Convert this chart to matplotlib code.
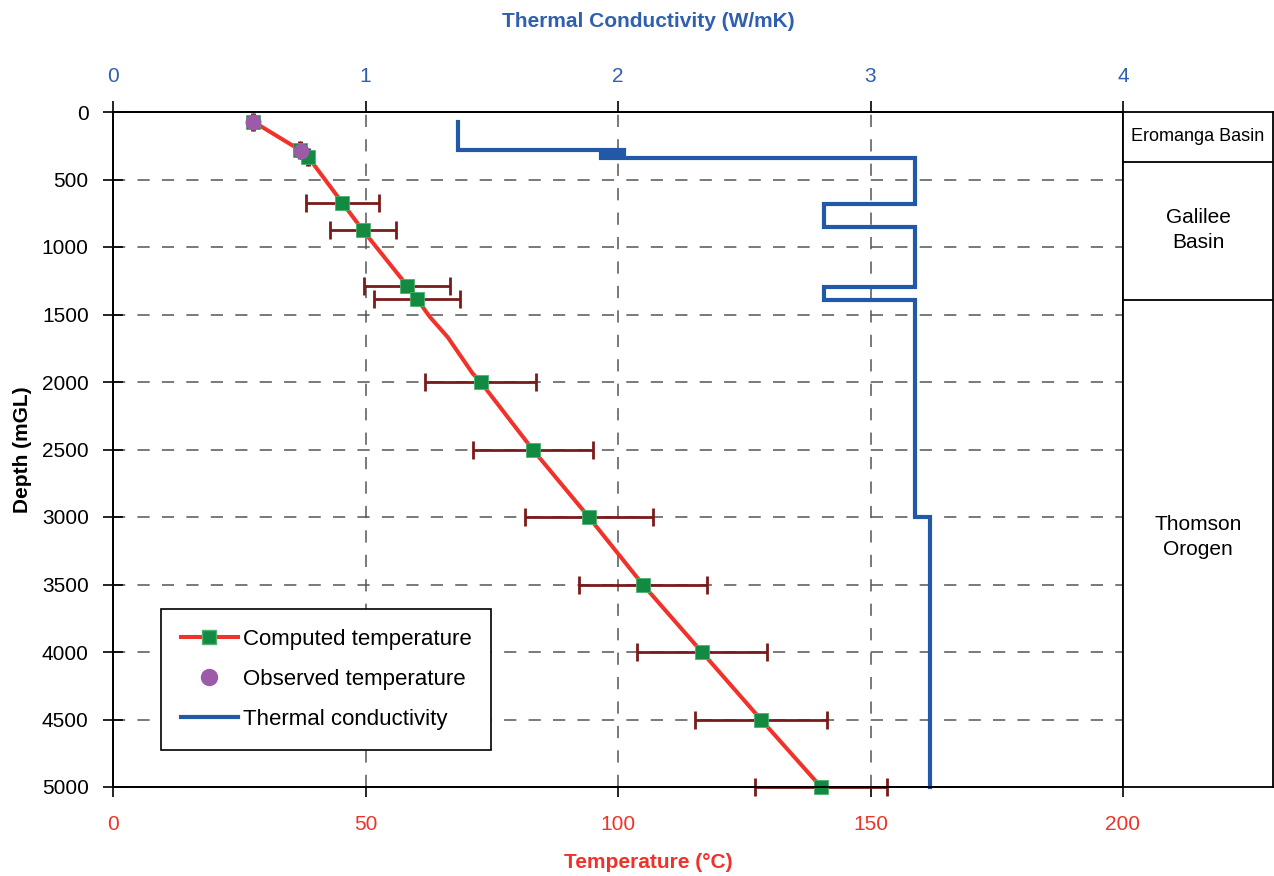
import numpy as np
import matplotlib
matplotlib.use("Agg")
import matplotlib.pyplot as plt
from matplotlib.lines import Line2D

plt.rcParams['font.family'] = ['Liberation Sans', 'DejaVu Sans']

# computed temperature at sample depths (m) with uncertainty (deg C)
comp_depth = [72, 281, 336, 672, 877, 1289, 1385, 2000, 2500, 3000, 3500, 4000, 4500, 5000]
comp_temp = [27.8, 37.0, 38.7, 45.4, 49.5, 58.3, 60.2, 72.8, 83.1, 94.2, 104.9, 116.6, 128.3, 140.2]
comp_err = [0.2, 0.2, 0.2, 7.2, 6.6, 8.5, 8.6, 11.0, 11.9, 12.7, 12.7, 12.9, 13.0, 13.1]

# full computed profile (line)
prof_depth = [72, 281, 336, 672, 877, 1289, 1385, 1516, 1669, 1936, 2000, 2500, 3000, 3500, 4000, 4500, 5000]
prof_temp = [27.8, 37.0, 38.7, 45.4, 49.5, 58.3, 60.2, 62.7, 66.3, 71.2, 72.8, 83.1, 94.2, 104.9, 116.6, 128.3, 140.2]

# observed temperature
obs_depth = [72, 289]
obs_temp = [27.8, 37.2]

# thermal conductivity layers: boundaries (m) and value per layer (W/mK)
k_bounds = [72, 281, 310, 338, 679, 854, 1294, 1393, 2998, 5000]
k_vals = [1.368, 2.023, 1.932, 3.177, 2.817, 3.177, 2.817, 3.177, 3.234]

# formation column
units = ["Eromanga Basin", "Galilee\nBasin", "Thomson\nOrogen"]
unit_tops = [0, 369, 1394]
unit_label_depth = [183, 874, 3148]
unit_fontsize = [13, 15, 15]

red = '#f0322a'
green = '#138a41'
purple = '#9c5ba8'
blue = '#2159a8'
darkred = '#7b1a1a'
tblue = '#2f5fae'

fig = plt.figure(figsize=(12.74, 8.76), dpi=100)
L, R, B, T = 113 / 1274, 1123 / 1274, 1 - 787 / 876, 1 - 112 / 876
ax = fig.add_axes([L, B, R - L, T - B])

ax.plot(prof_temp, prof_depth, color=red, lw=2.9, zorder=3, clip_on=False)
ax.errorbar(comp_temp, comp_depth, xerr=comp_err, fmt='none', ecolor=darkred,
            elinewidth=2.0, capsize=6.5, capthick=2.0, zorder=4, clip_on=False)
ax.plot(comp_temp, comp_depth, 's', color=green, ms=10, mec='#4fb06f', mew=0.6,
        zorder=5, clip_on=False)
ax.plot(obs_temp, obs_depth, 'o', color=purple, ms=11.5, mew=0, zorder=6, clip_on=False)

ax.set_xlim(0, 200)
ax.set_ylim(5000, 0)
ax.set_xticks([0, 50, 100, 150, 200])
ax.set_yticks(np.arange(0, 5001, 500))
ax.grid(True, color='#555555', lw=1.1, linestyle=(0, (8, 8)))
ax.set_axisbelow(True)
ax.tick_params(axis='x', colors='black', labelcolor=red, labelsize=15,
               direction='out', length=7, width=1.2, pad=13)
ax.tick_params(axis='y', labelsize=15, direction='inout', length=15, width=1.2, pad=10)
for s in ax.spines.values():
    s.set_linewidth(1.3)
ax.set_xlabel('Temperature (°C)', color=red, fontsize=15, fontweight='bold')
ax.xaxis.set_label_coords(0.53, -0.0975)
ax.set_ylabel('Depth (mGL)', fontsize=15, fontweight='bold', labelpad=7)

# conductivity on top axis
ax2 = ax.twiny()
kd = np.repeat(k_bounds, 2)[1:-1]
kv = np.repeat(k_vals, 2)
ax2.plot(kv, kd, color=blue, lw=3.0, solid_joinstyle='miter', clip_on=False)
ax2.set_xlim(0, 4)
ax2.set_xticks([0, 1, 2, 3, 4])
ax2.tick_params(axis='x', colors='black', labelcolor=tblue, labelsize=15,
                direction='out', length=8, width=1.2, pad=11)
ax2.set_xlabel('Thermal Conductivity (W/mK)', color=tblue, fontsize=15, fontweight='bold')
ax2.xaxis.set_label_coords(0.53, 1.126)
for s in ax2.spines.values():
    s.set_linewidth(1.3)

handles = [
    Line2D([], [], color=red, lw=2.9, marker='s', ms=10, mfc=green, mec='#4fb06f'),
    Line2D([], [], color=purple, lw=0, marker='o', ms=11.5),
    Line2D([], [], color=blue, lw=3.0),
]
leg = ax2.legend(handles, ['Computed temperature', 'Observed temperature', 'Thermal conductivity'],
                 loc='upper left', bbox_to_anchor=(161 / 1274, 1 - 609 / 876),
                 bbox_transform=fig.transFigure, borderaxespad=0, fontsize=16,
                 frameon=True, fancybox=False, edgecolor='black', framealpha=1,
                 handlelength=2.55, handletextpad=0.22, labelspacing=0.85, borderpad=0.9)
leg.get_frame().set_linewidth(1.2)

# formation column on the right
axf = fig.add_axes([R, B, 1273 / 1274 - R, T - B])
axf.set_xlim(0, 1)
axf.set_ylim(5000, 0)
axf.set_xticks([])
axf.set_yticks([])
for s in axf.spines.values():
    s.set_linewidth(1.3)
for top in unit_tops[1:]:
    axf.axhline(top, color='black', lw=1.3)
for name, d, fs in zip(units, unit_label_depth, unit_fontsize):
    axf.text(0.5, d, name, ha='center', va='center', fontsize=fs, linespacing=1.35)

fig.savefig('out.png', dpi=100)
